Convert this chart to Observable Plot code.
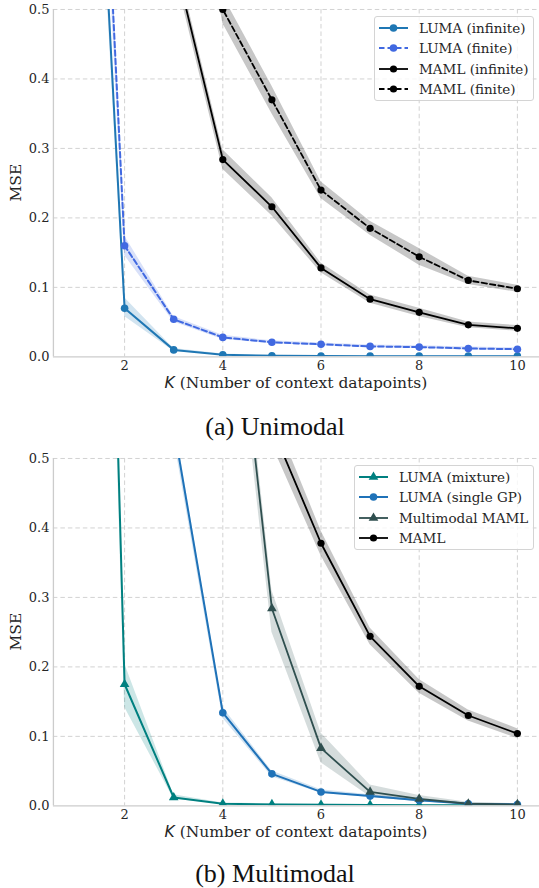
<!DOCTYPE html>
<html><head><meta charset="utf-8">
<script src="https://cdn.jsdelivr.net/npm/d3@7"></script>
<script src="https://cdn.jsdelivr.net/npm/@observablehq/plot@0.6"></script>
<style>
html,body{margin:0;padding:0;background:#fff;overflow:hidden;}
#wrap{position:relative;width:539px;height:888px;overflow:hidden;}
.chart{position:absolute;left:0;}
.cap{position:absolute;left:0;width:550px;text-align:center;font-family:"Liberation Serif",serif;font-size:26px;line-height:26px;color:#111;}
.legend{position:absolute;background:rgba(255,255,255,0.8);border:1px solid #d4d4d4;border-radius:3px;box-sizing:border-box;font-family:"DejaVu Serif","Liberation Serif",serif;font-size:13.5px;color:#262626;}
.legend .row{position:absolute;left:0;height:20px;display:flex;align-items:center;white-space:nowrap;}
.legend svg{display:block;}
</style></head>
<body>
<div id="wrap"></div>
<script>
// ---------- data ----------
const K = [1, 2, 3, 4, 5, 6, 7, 8, 9, 10];
const xTicks = [2, 4, 6, 8, 10];
const yTicks = [0, 0.1, 0.2, 0.3, 0.4, 0.5];

// (a) Unimodal
const lumaInfinite   = [1.40, 0.070, 0.010, 0.003, 0.0015, 0.0012, 0.0010, 0.0010, 0.0010, 0.0010];
const lumaInfiniteLo = [1.35, 0.058, 0.008, 0.002, 0.0008, 0.0006, 0.0005, 0.0005, 0.0005, 0.0005];
const lumaInfiniteHi = [1.45, 0.085, 0.012, 0.004, 0.0022, 0.0018, 0.0015, 0.0015, 0.0015, 0.0015];
const lumaFinite     = [1.60, 0.160, 0.054, 0.028, 0.021, 0.018, 0.015, 0.014, 0.012, 0.011];
const lumaFiniteLo   = [1.50, 0.146, 0.050, 0.025, 0.019, 0.016, 0.013, 0.012, 0.010, 0.009];
const lumaFiniteHi   = [1.70, 0.174, 0.058, 0.031, 0.023, 0.020, 0.017, 0.016, 0.014, 0.013];
const mamlInfinite   = [1.20, 0.90, 0.575, 0.284, 0.216, 0.128, 0.083, 0.064, 0.046, 0.041];
const mamlInfiniteLo = [1.15, 0.86, 0.560, 0.270, 0.203, 0.121, 0.077, 0.058, 0.042, 0.037];
const mamlInfiniteHi = [1.25, 0.94, 0.590, 0.298, 0.229, 0.135, 0.089, 0.070, 0.050, 0.045];
const mamlFinite     = [1.50, 1.20, 0.90, 0.500, 0.370, 0.240, 0.185, 0.144, 0.110, 0.098];
const mamlFiniteLo   = [1.45, 1.15, 0.86, 0.480, 0.350, 0.228, 0.175, 0.132, 0.104, 0.093];
const mamlFiniteHi   = [1.55, 1.25, 0.94, 0.520, 0.390, 0.252, 0.195, 0.156, 0.116, 0.103];

// (b) Multimodal
const lumaMixture     = [2.70, 0.175, 0.012, 0.003, 0.002, 0.0015, 0.0012, 0.0010, 0.0010, 0.0010];
const lumaMixtureLo   = [2.60, 0.142, 0.010, 0.002, 0.001, 0.0008, 0.0006, 0.0005, 0.0005, 0.0005];
const lumaMixtureHi   = [2.80, 0.205, 0.016, 0.004, 0.003, 0.0022, 0.0018, 0.0015, 0.0015, 0.0015];
const lumaSingleGP    = [1.60, 1.10, 0.546, 0.134, 0.046, 0.020, 0.014, 0.008, 0.003, 0.002];
const lumaSingleGPLo  = [1.55, 1.05, 0.530, 0.126, 0.042, 0.018, 0.012, 0.006, 0.002, 0.001];
const lumaSingleGPHi  = [1.65, 1.15, 0.560, 0.142, 0.050, 0.023, 0.016, 0.010, 0.004, 0.003];
const multimodalMaml   = [1.40, 1.20, 1.00, 0.920, 0.284, 0.083, 0.020, 0.010, 0.003, 0.002];
const multimodalMamlLo = [1.35, 1.15, 0.95, 0.880, 0.250, 0.062, 0.013, 0.006, 0.002, 0.001];
const multimodalMamlHi = [1.45, 1.25, 1.05, 0.960, 0.310, 0.105, 0.030, 0.015, 0.005, 0.003];
const maml   = [1.50, 1.20, 0.90, 0.70, 0.545, 0.378, 0.244, 0.172, 0.130, 0.104];
const mamlLo = [1.45, 1.15, 0.87, 0.67, 0.520, 0.360, 0.232, 0.162, 0.122, 0.097];
const mamlHi = [1.55, 1.25, 0.93, 0.73, 0.570, 0.396, 0.256, 0.182, 0.138, 0.111];

// ---------- series specs ----------
const seriesA = [
  {name: "LUMA (infinite)", v: lumaInfinite, lo: lumaInfiniteLo, hi: lumaInfiniteHi, color: "#1f77b4", dash: null, symbol: "circle", w: 2, r: 3.8},
  {name: "LUMA (finite)", v: lumaFinite, lo: lumaFiniteLo, hi: lumaFiniteHi, color: "#4169e1", dash: "5.5,3", symbol: "circle", w: 2, r: 3.8},
  {name: "MAML (infinite)", v: mamlInfinite, lo: mamlInfiniteLo, hi: mamlInfiniteHi, color: "#000000", dash: null, symbol: "circle", w: 1.8, r: 3.6},
  {name: "MAML (finite)", v: mamlFinite, lo: mamlFiniteLo, hi: mamlFiniteHi, color: "#000000", dash: "5.5,3", symbol: "circle", w: 1.8, r: 3.6}
];
const seriesB = [
  {name: "LUMA (mixture)", v: lumaMixture, lo: lumaMixtureLo, hi: lumaMixtureHi, color: "#008080", dash: null, symbol: "triangle", w: 2, r: 3.6},
  {name: "LUMA (single GP)", v: lumaSingleGP, lo: lumaSingleGPLo, hi: lumaSingleGPHi, color: "#1f72b8", dash: null, symbol: "circle", w: 2, r: 3.8},
  {name: "Multimodal MAML", v: multimodalMaml, lo: multimodalMamlLo, hi: multimodalMamlHi, color: "#2f4f4f", dash: null, symbol: "triangle", w: 1.8, r: 3.6},
  {name: "MAML", v: maml, lo: mamlLo, hi: mamlHi, color: "#000000", dash: null, symbol: "circle", w: 1.8, r: 3.6}
];

const wrap = document.getElementById("wrap");
const W = 540, H = 400, ML = 53, MT = 9, MB = 43;
const xDomain = [0.55, 10.45];
const SERIF = '"DejaVu Serif", "Liberation Serif", serif';

function makeChart(series, top) {
  const bands = [], lines = [], dots = [];
  for (const s of series) {
    const rows = K.map((k, i) => ({k, y: s.v[i], lo: s.lo[i], hi: s.hi[i]}));
    bands.push(Plot.areaY(rows, {x: "k", y1: "lo", y2: "hi", fill: s.color, fillOpacity: s.color === "#000000" ? 0.22 : 0.2, clip: true}));
    lines.push(Plot.line(rows, {x: "k", y: "y", stroke: s.color, strokeWidth: s.w, strokeDasharray: s.dash, clip: true}));
    dots.push(Plot.dot(rows, {x: "k", y: "y", fill: s.color, stroke: "none", r: s.r, symbol: s.symbol, clip: true}));
  }
  const svg = Plot.plot({
    width: W, height: H,
    marginLeft: ML, marginRight: 0, marginTop: MT, marginBottom: MB,
    style: {fontFamily: SERIF, fontSize: "13px", color: "#262626", background: "transparent", overflow: "visible"},
    x: {domain: xDomain, ticks: xTicks, tickSize: 0, tickPadding: 4, label: null},
    y: {domain: [0, 0.5], ticks: yTicks, tickFormat: d3.format(".1f"), tickSize: 0, tickPadding: 4, label: null},
    marks: [
      Plot.gridX(xTicks, {stroke: "#d2d2d2", strokeOpacity: 1, strokeWidth: 1, strokeDasharray: "4.5,3"}),
      Plot.gridY(yTicks.filter(d => d > 0), {stroke: "#d2d2d2", strokeOpacity: 1, strokeWidth: 1, strokeDasharray: "4.5,3"}),
      ...bands,
      ...lines,
      ...dots,
      Plot.ruleY([0], {stroke: "#cccccc", strokeWidth: 1.3}),
      Plot.ruleX([xDomain[0]], {stroke: "#cccccc", strokeWidth: 1.3})
    ]
  });
  const s = d3.select(svg);
  const xl = s.append("text")
    .attr("x", ML + (W - ML) / 2).attr("y", 389)
    .attr("text-anchor", "middle")
    .style("font-family", SERIF).attr("font-size", "15.5px").attr("fill", "#262626");
  xl.append("tspan").style("font-family", '"DejaVu Sans", sans-serif').attr("font-style", "italic").text("K");
  xl.append("tspan").text(" (Number of context datapoints)");
  s.append("text")
    .attr("transform", `translate(21,${MT + (H - MT - MB) / 2}) rotate(-90)`)
    .attr("text-anchor", "middle")
    .style("font-family", SERIF).attr("font-size", "15.5px").attr("fill", "#262626")
    .text("MSE");
  svg.classList.add("chart");
  svg.style.top = top + "px";
  wrap.appendChild(svg);
}

function makeLegend(series, left, top, width, sampleX, textX) {
  const box = document.createElement("div");
  box.className = "legend";
  Object.assign(box.style, {left: left + "px", top: top + "px", width: width + "px", height: "85px"});
  series.forEach((s, i) => {
    const row = document.createElement("div");
    row.className = "row";
    row.style.top = (1 + i * 20.3) + "px";
    const ns = "http://www.w3.org/2000/svg";
    const sv = document.createElementNS(ns, "svg");
    sv.setAttribute("width", textX);
    sv.setAttribute("height", 20);
    const ln = document.createElementNS(ns, "line");
    ln.setAttribute("x1", sampleX); ln.setAttribute("x2", sampleX + 29);
    ln.setAttribute("y1", 10); ln.setAttribute("y2", 10);
    ln.setAttribute("stroke", s.color); ln.setAttribute("stroke-width", s.w);
    if (s.dash) ln.setAttribute("stroke-dasharray", "5.5,3");
    sv.appendChild(ln);
    const mk = document.createElementNS(ns, "path");
    mk.setAttribute("d", d3.symbol(s.symbol === "triangle" ? d3.symbolTriangle : d3.symbolCircle, Math.PI * s.r * s.r)());
    mk.setAttribute("transform", `translate(${sampleX + 14.5},10)`);
    mk.setAttribute("fill", s.color);
    sv.appendChild(mk);
    row.appendChild(sv);
    const t = document.createElement("span");
    t.textContent = s.name;
    row.appendChild(t);
    box.appendChild(row);
  });
  wrap.appendChild(box);
}

makeChart(seriesA, 0);
makeChart(seriesB, 449);
makeLegend(seriesA, 374, 16, 160, 4, 44);
makeLegend(seriesB, 354, 465, 180, 4, 44);

const c1 = document.createElement("div");
c1.className = "cap"; c1.style.top = "414px"; c1.textContent = "(a) Unimodal";
wrap.appendChild(c1);
const c2 = document.createElement("div");
c2.className = "cap"; c2.style.top = "861px"; c2.textContent = "(b) Multimodal";
wrap.appendChild(c2);
</script>
</body></html>
